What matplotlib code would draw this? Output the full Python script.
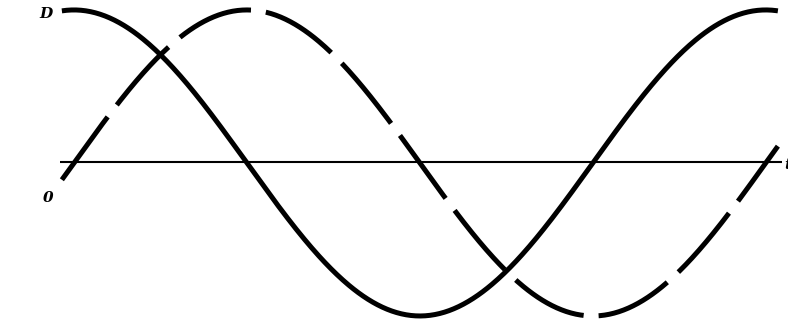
import numpy as np
import matplotlib
matplotlib.use("Agg")
import matplotlib.pyplot as plt

plt.rcParams['lines.scale_dashes'] = False

# Values (time axis in radians, displacement normalised)
amplitude = 1.0          # peak of both curves
t_start = -0.11          # curves begin slightly before t = 0
t_end = 2 * np.pi + 0.11 # and end slightly after one full period
axis_start = -0.13
axis_end = 6.43
labels = {"D": "D", "origin": "0", "time": "t"}

t = np.linspace(t_start, t_end, 600)
solid_curve = amplitude * np.cos(t)   # solid curve: starts at maximum
dashed_curve = amplitude * np.sin(t)  # dashed curve: starts at zero, rising

fig = plt.figure(figsize=(7.88, 3.25), dpi=100)
ax = fig.add_axes([0, 0, 1, 1])
ax.set_xlim(-0.672, 6.485)
ax.set_ylim(-1.059, 1.065)
ax.axis('off')

# time axis
ax.plot([axis_start, axis_end], [0.006, 0.006], color='black', lw=1.5,
        solid_capstyle='butt')

ax.plot(t, solid_curve, color='black', lw=3.6, solid_capstyle='butt')
ax.plot(t, dashed_curve, color='black', lw=3.6, dashes=(56, 10.8),
        dash_capstyle='butt')

txt_kw = dict(family='DejaVu Serif', style='italic', fontweight='bold',
              fontsize=11, color='black')
ax.text(46 / 788, 1 - 14 / 325, labels["D"], transform=ax.transAxes,
        ha='center', va='center', **txt_kw)
ax.text(48 / 788, 1 - 198 / 325, labels["origin"], transform=ax.transAxes,
        ha='center', va='center', **txt_kw)
ax.text(784 / 788, 1 - 165 / 325, labels["time"], transform=ax.transAxes,
        ha='left', va='center', **txt_kw)

fig.savefig('out.png', dpi=100)
